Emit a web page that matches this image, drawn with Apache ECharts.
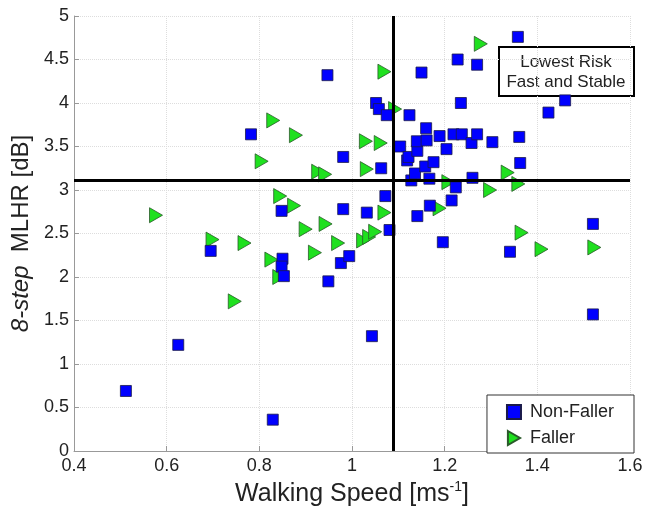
<!DOCTYPE html>
<html>
<head>
<meta charset="utf-8">
<title>MLHR vs walking speed</title>
<script src="https://cdn.jsdelivr.net/npm/echarts@6/dist/echarts.min.js"></script>
<style>
	html, body { margin: 0; padding: 0; background: #fff; }
	#chart { width: 655px; height: 512px; }
</style>
</head>
<body>
<div id="chart"></div>
<script>
// walking speed [m/s], 8-step MLHR [dB]
var nonFaller = [
	[0.512, 0.69], [0.625, 1.22], [0.695, 2.30], [0.782, 3.64], [0.829, 0.36],
	[0.848, 2.76], [0.850, 2.21], [0.848, 2.12], [0.853, 2.01], [0.947, 4.32],
	[0.949, 1.95], [0.976, 2.16], [0.981, 3.38], [0.981, 2.78], [0.994, 2.24],
	[1.032, 2.74], [1.043, 1.32], [1.052, 4.00], [1.058, 3.93], [1.075, 3.86],
	[1.063, 3.25], [1.072, 2.93], [1.081, 2.54], [1.104, 3.50], [1.119, 3.34],
	[1.122, 3.38], [1.124, 3.86], [1.128, 3.11], [1.136, 3.19], [1.141, 3.45],
	[1.140, 3.56], [1.141, 2.70], [1.150, 4.35], [1.158, 3.27], [1.160, 3.71],
	[1.161, 3.57], [1.167, 3.13], [1.168, 2.82], [1.176, 3.32], [1.189, 3.62],
	[1.196, 2.40], [1.204, 3.47], [1.215, 2.88], [1.219, 3.64], [1.224, 3.03],
	[1.228, 4.50], [1.235, 4.00], [1.237, 3.64], [1.258, 3.54], [1.260, 3.14],
	[1.270, 4.44], [1.270, 3.64], [1.303, 3.55], [1.341, 2.29], [1.358, 4.76],
	[1.361, 3.61], [1.363, 3.31], [1.424, 3.89], [1.460, 4.03], [1.520, 2.61],
	[1.520, 1.57]
];
var faller = [
	[0.577, 2.71], [0.699, 2.43], [0.747, 1.72], [0.768, 2.39], [0.805, 3.33],
	[0.826, 2.20], [0.830, 3.80], [0.843, 2.00], [0.845, 2.93], [0.875, 2.82],
	[0.879, 3.63], [0.900, 2.55], [0.920, 2.28], [0.927, 3.21], [0.942, 3.18],
	[0.943, 2.61], [0.970, 2.39], [1.024, 2.42], [1.030, 3.56], [1.032, 3.24],
	[1.037, 2.46], [1.050, 2.52], [1.062, 3.54], [1.070, 2.74], [1.070, 4.36],
	[1.093, 3.93], [1.189, 2.79], [1.208, 3.09], [1.278, 4.68], [1.298, 3.00],
	[1.336, 3.20], [1.359, 3.07], [1.366, 2.51], [1.409, 2.32], [1.523, 2.34]
];
// threshold lines (speed, MLHR)
var speedCut = 1.087;
var mlhrCut = 3.11;
var seriesNames = ['Non-Faller', 'Faller'];
var boxLines = ['Lowest Risk', 'Fast and Stable'];

var font = 'Liberation Sans, Arial, Helvetica, sans-serif';
var rightTri = 'path://M0,0 L13,7.5 L0,15 Z';

var myChart = echarts.init(document.getElementById('chart'));

var option = {
	backgroundColor: '#fff',
	animation: false,
	textStyle: { fontFamily: font },
	grid: { left: 74, right: 25, top: 16, bottom: 61 },
	xAxis: {
		type: 'value',
		min: 0.4,
		max: 1.6,
		interval: 0.2,
		name: '{a|Walking Speed [ms}{s|-1}{a|]}',
		nameLocation: 'middle',
		nameGap: 26,
		nameTextStyle: {
			rich: {
				a: { fontSize: 25, color: '#222', fontFamily: font, lineHeight: 28 },
				s: { fontSize: 14, color: '#222', fontFamily: font, lineHeight: 28, verticalAlign: 'top' }
			}
		},
		axisLine: { onZero: false, lineStyle: { color: '#999', width: 1 } },
		axisTick: { inside: true, length: 5, lineStyle: { color: '#999' } },
		axisLabel: { fontSize: 18, color: '#222', margin: 6 },
		splitLine: { show: true, lineStyle: { color: '#ddd', type: 'dotted' } }
	},
	yAxis: {
		type: 'value',
		min: 0,
		max: 5,
		interval: 0.5,
		name: '{i|8-step}  MLHR [dB]',
		nameLocation: 'middle',
		nameGap: 31,
		nameTextStyle: {
			rich: {
				i: { fontSize: 24, fontStyle: 'italic', color: '#222', fontFamily: font }
			},
			fontSize: 24,
			color: '#222'
		},
		axisLine: { onZero: false, lineStyle: { color: '#999', width: 1 } },
		axisTick: { inside: true, length: 5, lineStyle: { color: '#999' } },
		axisLabel: { fontSize: 18, color: '#222', margin: 5 },
		splitLine: { show: true, lineStyle: { color: '#ddd', type: 'dotted' } }
	},
	legend: {
		data: seriesNames,
		orient: 'vertical',
		right: 21,
		bottom: 59,
		padding: [8, 20, 6, 19],
		itemGap: 8,
		itemWidth: 14,
		itemHeight: 14,
		borderColor: '#333',
		borderWidth: 1,
		backgroundColor: '#fff',
		textStyle: { fontSize: 18, color: '#222', padding: [0, 0, 0, 4] }
	},
	graphic: [{
		type: 'group',
		left: 498,
		top: 46,
		children: [{
			type: 'rect',
			shape: { x: 0, y: 0, width: 135, height: 49 },
			style: { fill: '#fff', stroke: '#000', lineWidth: 2 }
		}, {
			type: 'text',
			x: 67,
			y: 25,
			style: {
				text: boxLines.join('\n'),
				fontSize: 17,
				lineHeight: 20,
				fontFamily: font,
				fill: '#222',
				align: 'center',
				verticalAlign: 'middle'
			}
		}]
	}],
	series: [{
		// cut-off lines, underneath the points
		type: 'scatter',
		name: 'cut',
		data: [],
		z: 1,
		markLine: {
			silent: true,
			symbol: 'none',
			label: { show: false },
			lineStyle: { color: '#000', width: 3, type: 'solid' },
			data: [{ xAxis: speedCut }, { yAxis: mlhrCut }]
		}
	}, {
		type: 'scatter',
		name: seriesNames[0],
		data: nonFaller,
		symbol: 'rect',
		symbolSize: 11,
		z: 3,
		itemStyle: { color: '#0000ff', borderColor: '#1a1a4a', borderWidth: 0.8, opacity: 1 }
	}, {
		type: 'scatter',
		name: seriesNames[1],
		data: faller,
		symbol: rightTri,
		symbolSize: [13, 15],
		z: 2,
		itemStyle: { color: '#1fe01f', borderColor: '#2a5a2a', borderWidth: 0.8, opacity: 1 }
	}]
};

myChart.setOption(option);
</script>
</body>
</html>
